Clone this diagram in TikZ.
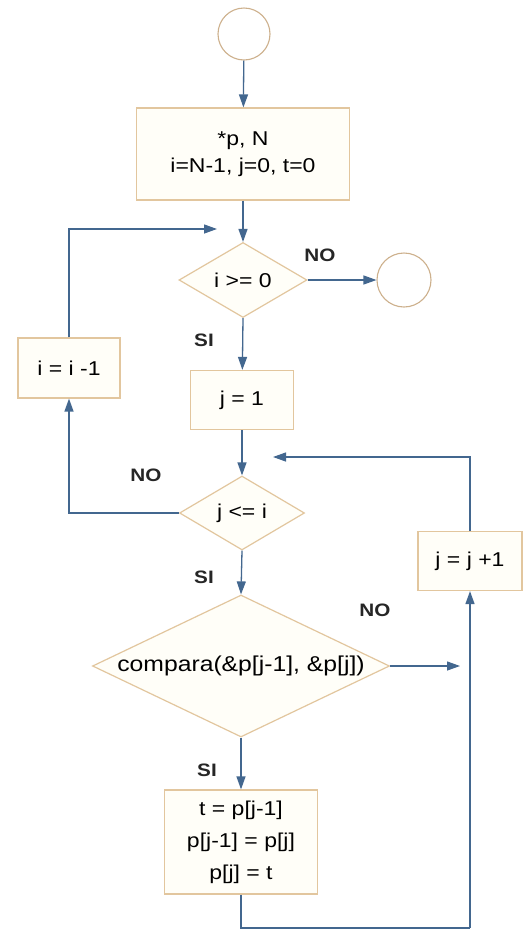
\documentclass[tikz,border=0pt]{standalone}
\usepackage{fontspec}
\setmainfont{Liberation Sans}[FakeStretch=1.15]
\usetikzlibrary{shapes.geometric,arrows.meta}
\definecolor{arr}{HTML}{43678F}
\definecolor{brd}{HTML}{E2C69E}
\definecolor{cbrd}{HTML}{CDB08C}
\definecolor{fil}{HTML}{FFFEF8}
\begin{document}
\begin{tikzpicture}[x=1pt,y=-1pt,
  proc/.style={draw=brd,fill=fil,line width=1.2pt,inner sep=0pt,align=center,font=\fontsize{20}{27}\selectfont},
  dec/.style={diamond,draw=brd,fill=fil,line width=1.2pt,inner sep=0pt,font=\fontsize{20}{24}\selectfont},
  term/.style={circle,draw=cbrd,fill=white,line width=1.1pt,inner sep=0pt},
  flow/.style={draw=arr,line width=1.3pt,-{Triangle[length=13pt,width=9pt]}},
  conn/.style={draw=arr,line width=1.3pt},
  lab/.style={font=\bfseries\fontsize{18}{20}\selectfont,text=black!85}]
\useasboundingbox (0,0) rectangle (528,930);
\fill[white] (0,0) rectangle (528,930);

\node[term,minimum size=52pt] (start) at (244,34) {};
\node[proc,minimum width=213pt,minimum height=92pt] (init) at (243,154) {*p, N\\i=N-1, j=0, t=0};
\node[dec,shape aspect=1.7,minimum width=128pt,minimum height=75pt] (d1) at (243,280) {i >= 0};
\node[term,minimum size=54pt] (stop) at (404,280) {};
\node[proc,minimum width=102pt,minimum height=60pt] (dec_i) at (69,368) {i = i -1};
\node[proc,minimum width=103pt,minimum height=59pt] (setj) at (242,400) {j = 1};
\node[dec,shape aspect=1.7,minimum width=125pt,minimum height=74pt] (d2) at (242,513) {j <= i};
\node[proc,minimum width=104pt,minimum height=59pt] (incj) at (470,561) {j = j +1};
\node[dec,shape aspect=2.1,minimum width=297pt,minimum height=142pt,font=\fontsize{21.5}{24}\selectfont] (d3) at (241,666) {compara(\&p[j-1], \&p[j])};
\node[proc,minimum width=153pt,minimum height=104pt,font=\fontsize{20}{32}\selectfont] (swap) at (241,842) {t = p[j-1]\\p[j-1] = p[j]\\p[j] = t};

\coordinate (m1) at (217,229);
\coordinate (m2) at (273,457);
\coordinate (m3) at (460,666);
\coordinate (b1) at (241,928);
\coordinate (b2) at (470,928);

\node[lab] (no1) at (320,255) {NO};
\node[lab] (si1) at (204,340) {SI};
\node[lab] (no2) at (146,475) {NO};
\node[lab] (si2) at (204,577) {SI};
\node[lab] (no3) at (375,610) {NO};
\node[lab] (si3) at (207,770) {SI};

\draw[flow] (start) -- (init);
\draw[flow] (init) -- (d1);
\draw[flow] (d1.east) -- (stop);
\draw[flow] (d1.south) -- (setj);
\draw[flow] (setj) -- (d2);
\draw[flow] (d2.west) -| (dec_i.south);
\draw[flow] (dec_i.north) |- (m1);
\draw[flow] (incj.north) |- (m2);
\draw[flow] (d2.south) -- (d3.north);
\draw[flow] (d3.east) -- (m3);
\draw[flow] (d3.south) -- (swap);
\draw[conn] (swap.south) -- (b1) -- (b2);
\draw[flow] (b2) -- (incj.south);
\end{tikzpicture}
\end{document}
